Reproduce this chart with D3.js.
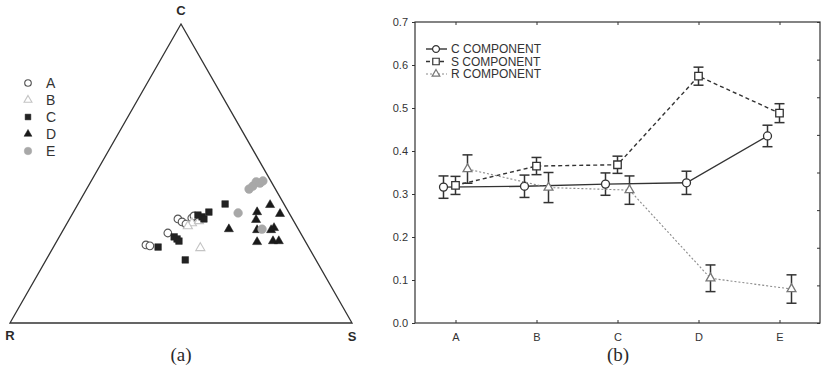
<!DOCTYPE html>
<html><head><meta charset="utf-8">
<script src="https://cdn.jsdelivr.net/npm/d3@7"></script>
<style>body{margin:0;background:#fff}svg{display:block}</style>
</head><body>
<svg id="chart" width="823" height="368"></svg>
<script>
// ---------- data ----------
// ternary groups: each point = [C, S, R] fractions
const ternGroups = ["A","B","C","D","E"];
const ternA = [[0.261,0.267,0.472],[0.258,0.280,0.462],[0.301,0.311,0.388],[0.348,0.317,0.335],[0.338,0.334,0.328],[0.331,0.349,0.320],[0.351,0.356,0.293],[0.358,0.359,0.283]];
const ternB = [[0.251,0.431,0.318],[0.334,0.365,0.301],[0.341,0.382,0.277],[0.324,0.358,0.318]];
const ternC = [[0.254,0.306,0.440],[0.288,0.336,0.376],[0.281,0.348,0.371],[0.274,0.357,0.369],[0.211,0.407,0.382],[0.361,0.369,0.270],[0.355,0.384,0.261],[0.348,0.393,0.259],[0.371,0.396,0.233],[0.398,0.430,0.172]];
const ternD = [[0.395,0.563,0.042],[0.371,0.537,0.092],[0.365,0.607,0.028],[0.345,0.547,0.108],[0.314,0.483,0.203],[0.311,0.567,0.122],[0.311,0.608,0.081],[0.318,0.613,0.069],[0.271,0.587,0.142],[0.274,0.632,0.094],[0.274,0.649,0.077]];
const ternE = [[0.368,0.483,0.149],[0.314,0.580,0.106],[0.448,0.475,0.077],[0.458,0.481,0.061],[0.472,0.484,0.044],[0.468,0.497,0.035],[0.475,0.502,0.023]];

// line chart
const categories = ["A","B","C","D","E"];
const seriesNames = ["C COMPONENT","S COMPONENT","R COMPONENT"];
const cValues = [0.316, 0.318, 0.323, 0.326, 0.435];
const cErrors = [0.026, 0.026, 0.026, 0.027, 0.025];
const sValues = [0.320, 0.365, 0.368, 0.574, 0.488];
const sErrors = [0.021, 0.020, 0.020, 0.021, 0.022];
const rValues = [0.358, 0.315, 0.309, 0.104, 0.079];
const rErrors = [0.033, 0.035, 0.033, 0.031, 0.033];
const yTicks = [0.0,0.1,0.2,0.3,0.4,0.5,0.6,0.7];

// ---------- setup ----------
const svg = d3.select("#chart");
const ink = "#2a2a2a";
const font = "'Liberation Sans', Arial, sans-serif";

// ---------- (a) ternary ----------
const tx = d3.scaleLinear().domain([0,1]).range([10,352]);   // S + C/2
const ty = d3.scaleLinear().domain([0,1]).range([323,24]);   // C
const tern = p => { const t = p[0]+p[1]+p[2]; const c=p[0]/t, s=p[1]/t; return [tx(s + c/2), ty(c)]; };

const ga = svg.append("g");
const verts = [[1,0,0],[0,0,1],[0,1,0]].map(tern);
ga.append("path").attr("d", d3.line()(verts) + "Z")
  .attr("fill","none").attr("stroke","#333").attr("stroke-width",1.3);
ga.append("text").attr("x",verts[0][0]).attr("y",15).attr("text-anchor","middle")
  .attr("font-family",font).attr("font-weight","bold").attr("font-size",13).attr("fill",ink).text("C");
ga.append("text").attr("x",verts[1][0]).attr("y",340).attr("text-anchor","middle")
  .attr("font-family",font).attr("font-weight","bold").attr("font-size",13).attr("fill",ink).text("R");
ga.append("text").attr("x",verts[2][0]).attr("y",341).attr("text-anchor","middle")
  .attr("font-family",font).attr("font-weight","bold").attr("font-size",13).attr("fill",ink).text("S");

const ternStyles = {
  A: {shape: d3.symbolCircle, size: 46, fill: "#fff", stroke: "#555", sw: 1.1},
  B: {shape: d3.symbolTriangle, size: 36, fill: "#fff", stroke: "#c4c4c4", sw: 1.1},
  C: {shape: d3.symbolSquare, size: 44, fill: "#222", stroke: "#222", sw: 0.5},
  D: {shape: d3.symbolTriangle, size: 36, fill: "#1a1a1a", stroke: "#1a1a1a", sw: 0.5},
  E: {shape: d3.symbolCircle, size: 60, fill: "#a8a8a8", stroke: "#a8a8a8", sw: 0.5}
};
const ternData = {A: ternA, B: ternB, C: ternC, D: ternD, E: ternE};
ternGroups.forEach(g => {
  const st = ternStyles[g];
  ga.append("g").selectAll("path").data(ternData[g]).join("path")
    .attr("d", d3.symbol().type(st.shape).size(st.size))
    .attr("transform", d => { const p = tern(d); return `translate(${p[0]},${p[1]})`; })
    .attr("fill", st.fill).attr("stroke", st.stroke).attr("stroke-width", st.sw);
});
// legend (a)
const legY = d3.scalePoint().domain(ternGroups).range([83,151]);
ternGroups.forEach(g => {
  const st = ternStyles[g];
  ga.append("path").attr("d", d3.symbol().type(st.shape).size(st.size*0.75))
    .attr("transform", `translate(28,${legY(g)})`)
    .attr("fill", st.fill).attr("stroke", st.stroke).attr("stroke-width", st.sw);
  ga.append("text").attr("x",46).attr("y",legY(g)+5).attr("font-family",font)
    .attr("font-size",14).attr("fill","#333").text(g);
});
ga.append("text").attr("x",181).attr("y",361).attr("text-anchor","middle")
  .attr("font-family","'Liberation Serif','DejaVu Serif',serif").attr("font-size",19).attr("fill",ink).text("(a)");

// ---------- (b) line chart ----------
const L = 415, R = 820, T = 22, B = 323;
const x = d3.scalePoint().domain(categories).range([L,R]).padding(0.5);
const y = d3.scaleLinear().domain([0,0.7]).range([B,T]);
const gb = svg.append("g");

// frame
gb.append("rect").attr("x",L).attr("y",T).attr("width",R-L).attr("height",B-T)
  .attr("fill","none").attr("stroke","#333").attr("stroke-width",1.2);

// left axis
const yAxis = gb.append("g").attr("transform",`translate(${L},0)`)
  .call(d3.axisLeft(y).tickValues(yTicks).tickFormat(d3.format(".1f")).tickSize(3).tickPadding(4));
yAxis.select(".domain").remove();
yAxis.selectAll("text").attr("font-family",font).attr("font-size",11).attr("fill","#333");
yAxis.selectAll("line").attr("stroke","#333");
// bottom axis
const xAxis = gb.append("g").attr("transform",`translate(0,${B})`)
  .call(d3.axisBottom(x).tickSize(-3).tickPadding(10));
xAxis.select(".domain").remove();
xAxis.selectAll("text").attr("font-family",font).attr("font-size",11).attr("fill","#333");
xAxis.selectAll("line").attr("stroke","#333");
// top ticks
const xTop = gb.append("g").attr("transform",`translate(0,${T})`)
  .call(d3.axisTop(x).tickSize(-3).tickFormat(""));
xTop.select(".domain").remove();
xTop.selectAll("line").attr("stroke","#333");
// right ticks
const yR = d3.scaleLinear().domain([0,8]).range([B,T]);
const yRight = gb.append("g").attr("transform",`translate(${R},0)`)
  .call(d3.axisRight(yR).ticks(8).tickSize(-3).tickFormat(""));
yRight.select(".domain").remove();
yRight.selectAll("line").attr("stroke","#333");

const series = [
  {name: seriesNames[0], vals: cValues, errs: cErrors, off: -12, shape: d3.symbolCircle, size: 50, stroke: "#333", lw: 1.4, dash: null, lc: "#333"},
  {name: seriesNames[1], vals: sValues, errs: sErrors, off: 0, shape: d3.symbolSquare, size: 56, stroke: "#333", lw: 1.4, dash: "4,3", lc: "#333"},
  {name: seriesNames[2], vals: rValues, errs: rErrors, off: 12, shape: d3.symbolTriangle, size: 34, stroke: "#777", lw: 1.1, dash: "2,2", lc: "#8a8a8a"}
];
const line = d3.line().x(d => d.x).y(d => d.y);
series.forEach(s => {
  const pts = categories.map((c,i) => ({x: x(c)+s.off, y: y(s.vals[i]), v: s.vals[i], e: s.errs[i]}));
  const g = gb.append("g");
  g.append("path").attr("d", line(pts)).attr("fill","none").attr("stroke",s.lc)
    .attr("stroke-width",s.lw).attr("stroke-dasharray",s.dash);
  // error bars
  pts.forEach(p => {
    const y1 = y(p.v + p.e), y2 = y(p.v - p.e);
    g.append("line").attr("x1",p.x).attr("x2",p.x).attr("y1",y1).attr("y2",y2).attr("stroke","#333").attr("stroke-width",1.5);
    g.append("line").attr("x1",p.x-5).attr("x2",p.x+5).attr("y1",y1).attr("y2",y1).attr("stroke","#333").attr("stroke-width",1.5);
    g.append("line").attr("x1",p.x-5).attr("x2",p.x+5).attr("y1",y2).attr("y2",y2).attr("stroke","#333").attr("stroke-width",1.5);
  });
  g.selectAll("path.m").data(pts).join("path").attr("class","m")
    .attr("d", d3.symbol().type(s.shape).size(s.size))
    .attr("transform", d => `translate(${d.x},${d.y})`)
    .attr("fill","#fff").attr("stroke",s.stroke).attr("stroke-width",1.3);
});
// legend (b)
const lgY = d3.scalePoint().domain(seriesNames).range([49,74]);
series.forEach(s => {
  const yy = lgY(s.name);
  gb.append("line").attr("x1",426).attr("x2",447).attr("y1",yy).attr("y2",yy)
    .attr("stroke",s.lc).attr("stroke-width",s.lw).attr("stroke-dasharray",s.dash);
  gb.append("path").attr("d", d3.symbol().type(s.shape).size(s.size*0.75))
    .attr("transform",`translate(436,${yy})`).attr("fill","#fff").attr("stroke",s.stroke).attr("stroke-width",1.2);
  gb.append("text").attr("x",451).attr("y",yy+4).attr("font-family",font).attr("font-size",12)
    .attr("fill","#333").text(s.name);
});
gb.append("text").attr("x",618).attr("y",361).attr("text-anchor","middle")
  .attr("font-family","'Liberation Serif','DejaVu Serif',serif").attr("font-size",19).attr("fill",ink).text("(b)");
</script>
</body></html>
